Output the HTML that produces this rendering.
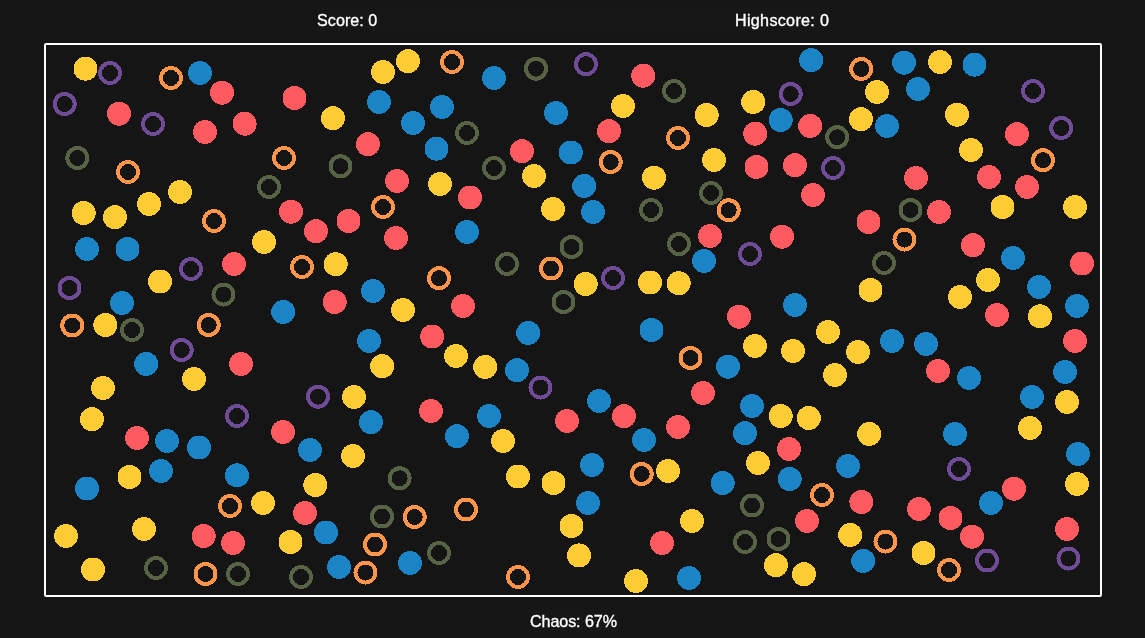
<!DOCTYPE html>
<html><head><meta charset="utf-8"><title>Chaos</title>
<style>
html,body{margin:0;padding:0;background:#151515;overflow:hidden;}
body{width:1145px;height:638px;position:relative;font-family:"Liberation Sans",sans-serif;color:#fff;}
.t{position:absolute;font-size:16.1px;-webkit-text-stroke:0.35px #fff;line-height:20px;white-space:nowrap;will-change:transform;}
#score{left:316.8px;top:10.2px;letter-spacing:0.05px;}
#high{left:734.7px;top:10.2px;letter-spacing:0.32px;}
#chaos{left:529.6px;top:611.4px;letter-spacing:-0.08px;}
#box{position:absolute;left:44px;top:43px;width:1054px;height:550px;border:2px solid #fff;border-radius:2px;}
  .band{position:absolute;background:#171717;}
svg{position:absolute;left:0;top:0;}
</style></head><body>
<div class="band" style="left:317px;top:8px;width:513px;height:23px"></div>
<div class="band" style="left:529px;top:609px;width:88px;height:23px"></div>
<div class="t" id="score">Score: 0</div>
<div class="t" id="high">Highscore: 0</div>
<div id="box"></div>
<svg width="1145" height="638" viewBox="0 0 1145 638" shape-rendering="crispEdges">
<circle cx="85.5" cy="68.7" r="12" fill="#ffcc33"/>
<circle cx="110" cy="73" r="10" fill="none" stroke="#704c98" stroke-width="4"/>
<circle cx="171" cy="78" r="10" fill="none" stroke="#ff9549" stroke-width="4"/>
<circle cx="200" cy="73" r="12" fill="#1b84c6"/>
<circle cx="222" cy="92.7" r="12" fill="#ff5a5f"/>
<circle cx="64.7" cy="104" r="10" fill="none" stroke="#704c98" stroke-width="4"/>
<circle cx="119" cy="113.7" r="12" fill="#ff5a5f"/>
<circle cx="153" cy="124" r="10" fill="none" stroke="#704c98" stroke-width="4"/>
<circle cx="205" cy="132" r="12" fill="#ff5a5f"/>
<circle cx="244.7" cy="123.7" r="12" fill="#ff5a5f"/>
<circle cx="294.5" cy="98" r="12" fill="#ff5a5f"/>
<circle cx="77.3" cy="158" r="10" fill="none" stroke="#586244" stroke-width="4"/>
<circle cx="284" cy="158" r="10" fill="none" stroke="#ff9549" stroke-width="4"/>
<circle cx="383" cy="72" r="12" fill="#ffcc33"/>
<circle cx="408" cy="61.2" r="12" fill="#ffcc33"/>
<circle cx="452" cy="62" r="10" fill="none" stroke="#ff9549" stroke-width="4"/>
<circle cx="494" cy="78" r="12" fill="#1b84c6"/>
<circle cx="536" cy="68.7" r="10" fill="none" stroke="#586244" stroke-width="4"/>
<circle cx="379" cy="102" r="12" fill="#1b84c6"/>
<circle cx="442" cy="107" r="12" fill="#1b84c6"/>
<circle cx="333" cy="118.2" r="12" fill="#ffcc33"/>
<circle cx="413" cy="123" r="12" fill="#1b84c6"/>
<circle cx="467" cy="133" r="10" fill="none" stroke="#586244" stroke-width="4"/>
<circle cx="556" cy="113" r="12" fill="#1b84c6"/>
<circle cx="368" cy="144.2" r="12" fill="#ff5a5f"/>
<circle cx="436.5" cy="148.7" r="12" fill="#1b84c6"/>
<circle cx="522" cy="151.2" r="12" fill="#ff5a5f"/>
<circle cx="570.8" cy="152.5" r="12" fill="#1b84c6"/>
<circle cx="340.5" cy="166.3" r="10" fill="none" stroke="#586244" stroke-width="4"/>
<circle cx="494" cy="168" r="10" fill="none" stroke="#586244" stroke-width="4"/>
<circle cx="586" cy="64.2" r="10" fill="none" stroke="#704c98" stroke-width="4"/>
<circle cx="643.2" cy="75.7" r="12" fill="#ff5a5f"/>
<circle cx="674" cy="91" r="10" fill="none" stroke="#586244" stroke-width="4"/>
<circle cx="623" cy="106" r="12" fill="#ffcc33"/>
<circle cx="706.7" cy="115" r="12" fill="#ffcc33"/>
<circle cx="753.2" cy="102" r="12" fill="#ffcc33"/>
<circle cx="790.7" cy="94" r="10" fill="none" stroke="#704c98" stroke-width="4"/>
<circle cx="811.2" cy="60.2" r="12" fill="#1b84c6"/>
<circle cx="861.2" cy="69" r="10" fill="none" stroke="#ff9549" stroke-width="4"/>
<circle cx="609" cy="131.2" r="12" fill="#ff5a5f"/>
<circle cx="678" cy="138" r="10" fill="none" stroke="#ff9549" stroke-width="4"/>
<circle cx="755.2" cy="133.7" r="12" fill="#ff5a5f"/>
<circle cx="780.7" cy="120" r="12" fill="#1b84c6"/>
<circle cx="810.2" cy="126" r="12" fill="#ff5a5f"/>
<circle cx="837.2" cy="137.2" r="10" fill="none" stroke="#586244" stroke-width="4"/>
<circle cx="861" cy="119.2" r="12" fill="#ffcc33"/>
<circle cx="610.7" cy="162" r="10" fill="none" stroke="#ff9549" stroke-width="4"/>
<circle cx="714" cy="160" r="12" fill="#ffcc33"/>
<circle cx="756.5" cy="167" r="12" fill="#ff5a5f"/>
<circle cx="795" cy="165.2" r="12" fill="#ff5a5f"/>
<circle cx="833" cy="168" r="10" fill="none" stroke="#704c98" stroke-width="4"/>
<circle cx="904" cy="62.7" r="12" fill="#1b84c6"/>
<circle cx="940" cy="62" r="12" fill="#ffcc33"/>
<circle cx="974.5" cy="64.7" r="12" fill="#1b84c6"/>
<circle cx="877" cy="92" r="12" fill="#ffcc33"/>
<circle cx="918" cy="89" r="12" fill="#1b84c6"/>
<circle cx="1033" cy="91" r="10" fill="none" stroke="#704c98" stroke-width="4"/>
<circle cx="887" cy="126" r="12" fill="#1b84c6"/>
<circle cx="957" cy="114.7" r="12" fill="#ffcc33"/>
<circle cx="1017" cy="134.2" r="12" fill="#ff5a5f"/>
<circle cx="1061.2" cy="128" r="10" fill="none" stroke="#704c98" stroke-width="4"/>
<circle cx="971" cy="150" r="12" fill="#ffcc33"/>
<circle cx="1043" cy="160.2" r="10" fill="none" stroke="#ff9549" stroke-width="4"/>
<circle cx="128" cy="172" r="10" fill="none" stroke="#ff9549" stroke-width="4"/>
<circle cx="269" cy="187" r="10" fill="none" stroke="#586244" stroke-width="4"/>
<circle cx="180" cy="192" r="12" fill="#ffcc33"/>
<circle cx="149" cy="204" r="12" fill="#ffcc33"/>
<circle cx="83.7" cy="213" r="12" fill="#ffcc33"/>
<circle cx="115" cy="217.2" r="12" fill="#ffcc33"/>
<circle cx="291" cy="211.7" r="12" fill="#ff5a5f"/>
<circle cx="214" cy="221" r="10" fill="none" stroke="#ff9549" stroke-width="4"/>
<circle cx="264" cy="242" r="12" fill="#ffcc33"/>
<circle cx="87" cy="249" r="12" fill="#1b84c6"/>
<circle cx="127.5" cy="249" r="12" fill="#1b84c6"/>
<circle cx="234" cy="264" r="12" fill="#ff5a5f"/>
<circle cx="191" cy="269" r="10" fill="none" stroke="#704c98" stroke-width="4"/>
<circle cx="160" cy="281.5" r="12" fill="#ffcc33"/>
<circle cx="69.5" cy="288" r="10" fill="none" stroke="#704c98" stroke-width="4"/>
<circle cx="223.5" cy="294.5" r="10" fill="none" stroke="#586244" stroke-width="4"/>
<circle cx="122" cy="303" r="12" fill="#1b84c6"/>
<circle cx="283.2" cy="312" r="12" fill="#1b84c6"/>
<circle cx="72.3" cy="325.5" r="10" fill="none" stroke="#ff9549" stroke-width="4"/>
<circle cx="105.3" cy="325" r="12" fill="#ffcc33"/>
<circle cx="208.7" cy="325" r="10" fill="none" stroke="#ff9549" stroke-width="4"/>
<circle cx="397" cy="181" r="12" fill="#ff5a5f"/>
<circle cx="440" cy="184" r="12" fill="#ffcc33"/>
<circle cx="534" cy="176" r="12" fill="#ffcc33"/>
<circle cx="470" cy="197.5" r="12" fill="#ff5a5f"/>
<circle cx="383" cy="207" r="10" fill="none" stroke="#ff9549" stroke-width="4"/>
<circle cx="553" cy="209" r="12" fill="#ffcc33"/>
<circle cx="348.5" cy="221" r="12" fill="#ff5a5f"/>
<circle cx="316" cy="231.2" r="12" fill="#ff5a5f"/>
<circle cx="396" cy="238" r="12" fill="#ff5a5f"/>
<circle cx="467" cy="232" r="12" fill="#1b84c6"/>
<circle cx="571.5" cy="247" r="10" fill="none" stroke="#586244" stroke-width="4"/>
<circle cx="302" cy="267" r="10" fill="none" stroke="#ff9549" stroke-width="4"/>
<circle cx="335.7" cy="264.2" r="12" fill="#ffcc33"/>
<circle cx="507" cy="264" r="10" fill="none" stroke="#586244" stroke-width="4"/>
<circle cx="551" cy="268.5" r="10" fill="none" stroke="#ff9549" stroke-width="4"/>
<circle cx="439" cy="278.2" r="10" fill="none" stroke="#ff9549" stroke-width="4"/>
<circle cx="373" cy="291" r="12" fill="#1b84c6"/>
<circle cx="334.7" cy="302" r="12" fill="#ff5a5f"/>
<circle cx="403" cy="310" r="12" fill="#ffcc33"/>
<circle cx="463" cy="306" r="12" fill="#ff5a5f"/>
<circle cx="563.5" cy="302" r="10" fill="none" stroke="#586244" stroke-width="4"/>
<circle cx="584.2" cy="186" r="12" fill="#1b84c6"/>
<circle cx="654" cy="177.7" r="12" fill="#ffcc33"/>
<circle cx="711" cy="193" r="10" fill="none" stroke="#586244" stroke-width="4"/>
<circle cx="813" cy="195" r="12" fill="#ff5a5f"/>
<circle cx="593" cy="212" r="12" fill="#1b84c6"/>
<circle cx="651" cy="210" r="10" fill="none" stroke="#586244" stroke-width="4"/>
<circle cx="728.7" cy="210.2" r="10" fill="none" stroke="#ff9549" stroke-width="4"/>
<circle cx="710" cy="236" r="12" fill="#ff5a5f"/>
<circle cx="782" cy="236.7" r="12" fill="#ff5a5f"/>
<circle cx="868.5" cy="222" r="12" fill="#ff5a5f"/>
<circle cx="679" cy="244" r="10" fill="none" stroke="#586244" stroke-width="4"/>
<circle cx="704" cy="261" r="12" fill="#1b84c6"/>
<circle cx="750" cy="254" r="10" fill="none" stroke="#704c98" stroke-width="4"/>
<circle cx="585.7" cy="284" r="12" fill="#ffcc33"/>
<circle cx="613" cy="278" r="10" fill="none" stroke="#704c98" stroke-width="4"/>
<circle cx="650" cy="282.5" r="12" fill="#ffcc33"/>
<circle cx="678.7" cy="283.2" r="12" fill="#ffcc33"/>
<circle cx="739" cy="316.7" r="12" fill="#ff5a5f"/>
<circle cx="795" cy="305" r="12" fill="#1b84c6"/>
<circle cx="916" cy="178" r="12" fill="#ff5a5f"/>
<circle cx="989" cy="177" r="12" fill="#ff5a5f"/>
<circle cx="1027" cy="187" r="12" fill="#ff5a5f"/>
<circle cx="1002.5" cy="207" r="12" fill="#ffcc33"/>
<circle cx="1075" cy="207" r="12" fill="#ffcc33"/>
<circle cx="910.5" cy="210" r="10" fill="none" stroke="#586244" stroke-width="4"/>
<circle cx="939" cy="212" r="12" fill="#ff5a5f"/>
<circle cx="904.5" cy="239.5" r="10" fill="none" stroke="#ff9549" stroke-width="4"/>
<circle cx="973" cy="245.2" r="12" fill="#ff5a5f"/>
<circle cx="1013" cy="258" r="12" fill="#1b84c6"/>
<circle cx="884" cy="263" r="10" fill="none" stroke="#586244" stroke-width="4"/>
<circle cx="1082" cy="263.5" r="12" fill="#ff5a5f"/>
<circle cx="988" cy="280" r="12" fill="#ffcc33"/>
<circle cx="1039" cy="287" r="12" fill="#1b84c6"/>
<circle cx="870.5" cy="290" r="12" fill="#ffcc33"/>
<circle cx="960" cy="297" r="12" fill="#ffcc33"/>
<circle cx="1077" cy="306" r="12" fill="#1b84c6"/>
<circle cx="997" cy="315" r="12" fill="#ff5a5f"/>
<circle cx="1040" cy="316.3" r="12" fill="#ffcc33"/>
<circle cx="132" cy="330" r="10" fill="none" stroke="#586244" stroke-width="4"/>
<circle cx="181.7" cy="350" r="10" fill="none" stroke="#704c98" stroke-width="4"/>
<circle cx="146.2" cy="364" r="12" fill="#1b84c6"/>
<circle cx="241" cy="364" r="12" fill="#ff5a5f"/>
<circle cx="194" cy="379" r="12" fill="#ffcc33"/>
<circle cx="103" cy="388" r="12" fill="#ffcc33"/>
<circle cx="237" cy="416" r="10" fill="none" stroke="#704c98" stroke-width="4"/>
<circle cx="92" cy="419.2" r="12" fill="#ffcc33"/>
<circle cx="137" cy="438" r="12" fill="#ff5a5f"/>
<circle cx="167" cy="441" r="12" fill="#1b84c6"/>
<circle cx="199" cy="447.5" r="12" fill="#1b84c6"/>
<circle cx="283" cy="432" r="12" fill="#ff5a5f"/>
<circle cx="129.5" cy="477" r="12" fill="#ffcc33"/>
<circle cx="161" cy="471" r="12" fill="#1b84c6"/>
<circle cx="237" cy="475.3" r="12" fill="#1b84c6"/>
<circle cx="369" cy="341" r="12" fill="#1b84c6"/>
<circle cx="432.2" cy="336.5" r="12" fill="#ff5a5f"/>
<circle cx="528.2" cy="333" r="12" fill="#1b84c6"/>
<circle cx="456" cy="356" r="12" fill="#ffcc33"/>
<circle cx="382.2" cy="366.2" r="12" fill="#ffcc33"/>
<circle cx="485.2" cy="367" r="12" fill="#ffcc33"/>
<circle cx="517" cy="370.2" r="12" fill="#1b84c6"/>
<circle cx="540.5" cy="387.5" r="10" fill="none" stroke="#704c98" stroke-width="4"/>
<circle cx="318" cy="396.7" r="10" fill="none" stroke="#704c98" stroke-width="4"/>
<circle cx="354" cy="397" r="12" fill="#ffcc33"/>
<circle cx="431" cy="411" r="12" fill="#ff5a5f"/>
<circle cx="489" cy="416" r="12" fill="#1b84c6"/>
<circle cx="371" cy="422.2" r="12" fill="#1b84c6"/>
<circle cx="567" cy="421" r="12" fill="#ff5a5f"/>
<circle cx="457" cy="436.2" r="12" fill="#1b84c6"/>
<circle cx="503" cy="441" r="12" fill="#ffcc33"/>
<circle cx="310" cy="450" r="12" fill="#1b84c6"/>
<circle cx="353" cy="456" r="12" fill="#ffcc33"/>
<circle cx="399.6" cy="478.3" r="10" fill="none" stroke="#586244" stroke-width="4"/>
<circle cx="315.3" cy="485" r="12" fill="#ffcc33"/>
<circle cx="518" cy="476.5" r="12" fill="#ffcc33"/>
<circle cx="553.5" cy="483" r="12" fill="#ffcc33"/>
<circle cx="651.5" cy="330" r="12" fill="#1b84c6"/>
<circle cx="828" cy="332" r="12" fill="#ffcc33"/>
<circle cx="755" cy="346" r="12" fill="#ffcc33"/>
<circle cx="793" cy="351" r="12" fill="#ffcc33"/>
<circle cx="858" cy="352" r="12" fill="#ffcc33"/>
<circle cx="690.5" cy="358" r="10" fill="none" stroke="#ff9549" stroke-width="4"/>
<circle cx="728" cy="366.7" r="12" fill="#1b84c6"/>
<circle cx="835" cy="375" r="12" fill="#ffcc33"/>
<circle cx="703" cy="393" r="12" fill="#ff5a5f"/>
<circle cx="599" cy="401" r="12" fill="#1b84c6"/>
<circle cx="752" cy="406" r="12" fill="#1b84c6"/>
<circle cx="624" cy="416.2" r="12" fill="#ff5a5f"/>
<circle cx="780.7" cy="416" r="12" fill="#ffcc33"/>
<circle cx="808.8" cy="418" r="12" fill="#ffcc33"/>
<circle cx="678" cy="427" r="12" fill="#ff5a5f"/>
<circle cx="745" cy="433.2" r="12" fill="#1b84c6"/>
<circle cx="644" cy="440" r="12" fill="#1b84c6"/>
<circle cx="869.2" cy="434" r="12" fill="#ffcc33"/>
<circle cx="789" cy="449" r="12" fill="#ff5a5f"/>
<circle cx="592" cy="465" r="12" fill="#1b84c6"/>
<circle cx="758" cy="463" r="12" fill="#ffcc33"/>
<circle cx="848" cy="466" r="12" fill="#1b84c6"/>
<circle cx="641.7" cy="474" r="10" fill="none" stroke="#ff9549" stroke-width="4"/>
<circle cx="668" cy="471" r="12" fill="#ffcc33"/>
<circle cx="722.7" cy="483" r="12" fill="#1b84c6"/>
<circle cx="789.7" cy="479" r="12" fill="#1b84c6"/>
<circle cx="1075" cy="341" r="12" fill="#ff5a5f"/>
<circle cx="892" cy="341" r="12" fill="#1b84c6"/>
<circle cx="926" cy="344" r="12" fill="#1b84c6"/>
<circle cx="938" cy="371" r="12" fill="#ff5a5f"/>
<circle cx="969" cy="378" r="12" fill="#1b84c6"/>
<circle cx="1065" cy="372" r="12" fill="#1b84c6"/>
<circle cx="1032" cy="397" r="12" fill="#1b84c6"/>
<circle cx="1067" cy="402" r="12" fill="#ffcc33"/>
<circle cx="1030" cy="428" r="12" fill="#ffcc33"/>
<circle cx="955" cy="434" r="12" fill="#1b84c6"/>
<circle cx="1078" cy="454" r="12" fill="#1b84c6"/>
<circle cx="959" cy="469" r="10" fill="none" stroke="#704c98" stroke-width="4"/>
<circle cx="1077" cy="484" r="12" fill="#ffcc33"/>
<circle cx="87" cy="488.5" r="12" fill="#1b84c6"/>
<circle cx="230" cy="506" r="10" fill="none" stroke="#ff9549" stroke-width="4"/>
<circle cx="263" cy="503" r="12" fill="#ffcc33"/>
<circle cx="66" cy="536" r="12" fill="#ffcc33"/>
<circle cx="144" cy="529" r="12" fill="#ffcc33"/>
<circle cx="203.7" cy="536" r="12" fill="#ff5a5f"/>
<circle cx="233" cy="543" r="12" fill="#ff5a5f"/>
<circle cx="290.5" cy="542" r="12" fill="#ffcc33"/>
<circle cx="93" cy="569.5" r="12" fill="#ffcc33"/>
<circle cx="156" cy="568" r="10" fill="none" stroke="#586244" stroke-width="4"/>
<circle cx="205.5" cy="574" r="10" fill="none" stroke="#ff9549" stroke-width="4"/>
<circle cx="238" cy="574" r="10" fill="none" stroke="#586244" stroke-width="4"/>
<circle cx="305" cy="513" r="12" fill="#ff5a5f"/>
<circle cx="382" cy="516.5" r="10" fill="none" stroke="#586244" stroke-width="4"/>
<circle cx="414.7" cy="517" r="10" fill="none" stroke="#ff9549" stroke-width="4"/>
<circle cx="466" cy="509.5" r="10" fill="none" stroke="#ff9549" stroke-width="4"/>
<circle cx="326" cy="532.5" r="12" fill="#1b84c6"/>
<circle cx="375" cy="544.5" r="10" fill="none" stroke="#ff9549" stroke-width="4"/>
<circle cx="571.5" cy="526" r="12" fill="#ffcc33"/>
<circle cx="579" cy="555.4" r="12" fill="#ffcc33"/>
<circle cx="439" cy="553" r="10" fill="none" stroke="#586244" stroke-width="4"/>
<circle cx="410" cy="563" r="12" fill="#1b84c6"/>
<circle cx="339" cy="567" r="12" fill="#1b84c6"/>
<circle cx="365.5" cy="572.5" r="10" fill="none" stroke="#ff9549" stroke-width="4"/>
<circle cx="301" cy="577" r="10" fill="none" stroke="#586244" stroke-width="4"/>
<circle cx="518" cy="577" r="10" fill="none" stroke="#ff9549" stroke-width="4"/>
<circle cx="822" cy="495" r="10" fill="none" stroke="#ff9549" stroke-width="4"/>
<circle cx="588" cy="503" r="12" fill="#1b84c6"/>
<circle cx="752" cy="505.5" r="10" fill="none" stroke="#586244" stroke-width="4"/>
<circle cx="861.3" cy="502" r="12" fill="#ff5a5f"/>
<circle cx="692" cy="521" r="12" fill="#ffcc33"/>
<circle cx="807" cy="521" r="12" fill="#ff5a5f"/>
<circle cx="850.2" cy="535" r="12" fill="#ffcc33"/>
<circle cx="745" cy="542" r="10" fill="none" stroke="#586244" stroke-width="4"/>
<circle cx="778.5" cy="539" r="10" fill="none" stroke="#586244" stroke-width="4"/>
<circle cx="662" cy="543" r="12" fill="#ff5a5f"/>
<circle cx="863.2" cy="561" r="12" fill="#1b84c6"/>
<circle cx="776" cy="565.2" r="12" fill="#ffcc33"/>
<circle cx="804" cy="574.2" r="12" fill="#ffcc33"/>
<circle cx="636" cy="581" r="12" fill="#ffcc33"/>
<circle cx="689" cy="578" r="12" fill="#1b84c6"/>
<circle cx="1014" cy="488.7" r="12" fill="#ff5a5f"/>
<circle cx="991" cy="503" r="12" fill="#1b84c6"/>
<circle cx="919" cy="509" r="12" fill="#ff5a5f"/>
<circle cx="950.5" cy="518" r="12" fill="#ff5a5f"/>
<circle cx="972" cy="536.7" r="12" fill="#ff5a5f"/>
<circle cx="1067" cy="529" r="12" fill="#ff5a5f"/>
<circle cx="885.5" cy="541.5" r="10" fill="none" stroke="#ff9549" stroke-width="4"/>
<circle cx="923.5" cy="553" r="12" fill="#ffcc33"/>
<circle cx="987" cy="560.5" r="10" fill="none" stroke="#704c98" stroke-width="4"/>
<circle cx="1068.5" cy="558.5" r="10" fill="none" stroke="#704c98" stroke-width="4"/>
<circle cx="949" cy="570" r="10" fill="none" stroke="#ff9549" stroke-width="4"/>
</svg>
<div class="t" id="chaos">Chaos: 67%</div>
</body></html>
